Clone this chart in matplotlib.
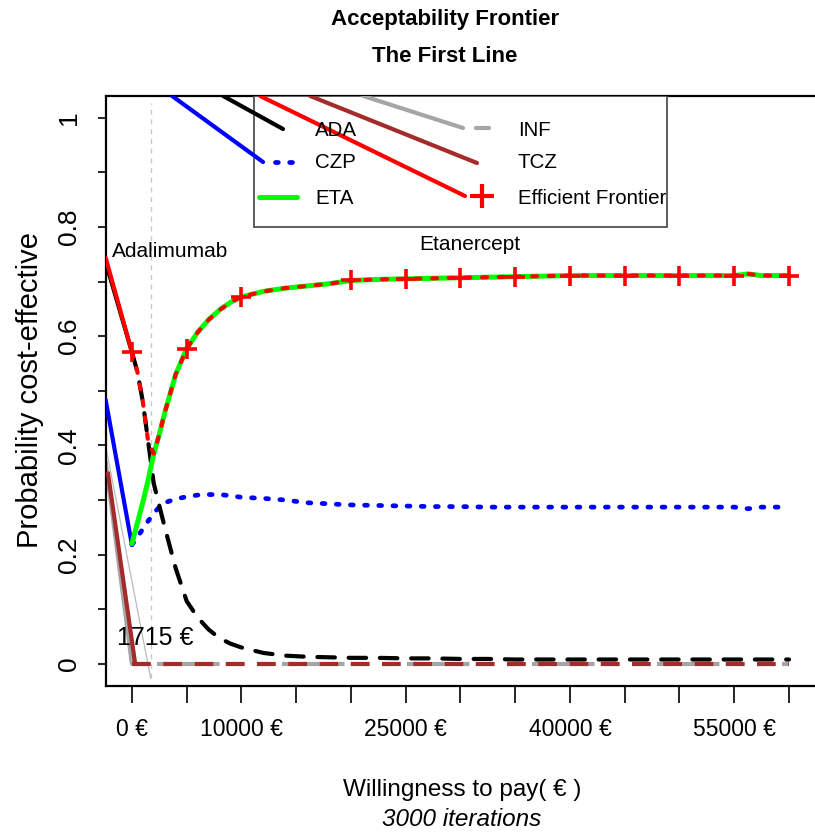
import matplotlib
matplotlib.use('Agg')
import matplotlib.pyplot as plt
from matplotlib.patches import Rectangle

NARROW = ['Liberation Sans', 'DejaVu Sans']
REG = ['Liberation Sans', 'DejaVu Sans']

# ---------------- data ----------------
wtp = [0, 500, 1000, 1500, 2000, 2500, 3000, 4000, 5000, 6000, 7000, 8000, 9000, 10000,
       12000, 14000, 16000, 18000, 20000, 22500, 25000, 27500, 30000, 32500, 35000,
       37500, 40000, 42500, 45000, 47500, 50000, 52500, 55000, 56250, 57500, 60000]

ada = [0.571, 0.535, 0.480, 0.405, 0.330, 0.290, 0.250, 0.175, 0.115, 0.085, 0.063, 0.047,
       0.037, 0.030, 0.020, 0.015, 0.013, 0.012, 0.011, 0.011, 0.010, 0.010, 0.009, 0.009,
       0.008, 0.008, 0.008, 0.008, 0.008, 0.008, 0.008, 0.008, 0.008, 0.008, 0.008, 0.008]

czp = [0.218, 0.232, 0.247, 0.262, 0.276, 0.287, 0.295, 0.302, 0.306, 0.309, 0.310, 0.310,
       0.308, 0.305, 0.303, 0.300, 0.295, 0.293, 0.291, 0.290, 0.289, 0.288, 0.288, 0.287,
       0.287, 0.287, 0.287, 0.287, 0.287, 0.287, 0.287, 0.287, 0.287, 0.284, 0.287, 0.287]

eta = [0.220, 0.258, 0.296, 0.338, 0.385, 0.420, 0.460, 0.530, 0.577, 0.607, 0.630, 0.648,
       0.662, 0.672, 0.682, 0.688, 0.692, 0.696, 0.702, 0.704, 0.705, 0.706, 0.707, 0.708,
       0.709, 0.710, 0.711, 0.711, 0.711, 0.711, 0.711, 0.711, 0.711, 0.714, 0.711, 0.711]

inf = [0.0, 0.0, 0.0, 0.0, 0.0, 0.0, 0.0, 0.0, 0.0, 0.0, 0.0, 0.0,
       0.0, 0.0, 0.0, 0.0, 0.0, 0.0, 0.0, 0.0, 0.0, 0.0, 0.0, 0.0,
       0.0, 0.0, 0.0, 0.0, 0.0, 0.0, 0.0, 0.0, 0.0, 0.0, 0.0, 0.0]

tcz = [0.0, 0.0, 0.0, 0.0, 0.0, 0.0, 0.0, 0.0, 0.0, 0.0, 0.0, 0.0,
       0.0, 0.0, 0.0, 0.0, 0.0, 0.0, 0.0, 0.0, 0.0, 0.0, 0.0, 0.0,
       0.0, 0.0, 0.0, 0.0, 0.0, 0.0, 0.0, 0.0, 0.0, 0.0, 0.0, 0.0]

frontier = [0.571, 0.535, 0.480, 0.405, 0.385, 0.420, 0.460, 0.530, 0.577, 0.607, 0.630, 0.648,
            0.662, 0.672, 0.682, 0.688, 0.692, 0.696, 0.702, 0.704, 0.705, 0.706, 0.707, 0.708,
            0.709, 0.710, 0.711, 0.711, 0.711, 0.711, 0.711, 0.711, 0.711, 0.714, 0.711, 0.711]

# solid lead-in segments (start values at the left edge of the plot)
lead_ada, lead_czp, lead_inf, lead_tcz, lead_front = 0.736, 0.484, 0.370, 0.352, 0.744
threshold = 1715
thr_ymin, thr_ymax, lead_thr = -0.026, 1.027, 0.40

labels = ['ADA', 'CZP', 'ETA', 'INF', 'TCZ', 'Efficient Frontier']
xtick_vals = [0, 5000, 10000, 15000, 20000, 25000, 30000, 35000, 40000, 45000, 50000, 55000, 60000]
xtick_labs = ['0 €', '', '10000 €', '', '', '25000 €', '', '', '40000 €', '', '', '55000 €', '']
ytick_vals = [0, 0.1, 0.2, 0.3, 0.4, 0.5, 0.6, 0.7, 0.8, 0.9, 1.0]
ytick_labs = ['0', '', '0.2', '', '0.4', '', '0.6', '', '0.8', '', '1']

C_ADA, C_CZP, C_ETA, C_INF, C_TCZ, C_FR = 'black', '#0000ff', '#00ff00', '#a5a5a5', '#a52a2a', '#ff0000'
LW = 3.0

# ---------------- figure ----------------
W, H = 815, 834
fig = plt.figure(figsize=(W / 100, H / 100), dpi=100)
XL, XR = -2400, 62400
YB, YT = -0.04, 1.04
ax = fig.add_axes([105.6 / W, 1 - 685.7 / H, 709.7 / W, 589.8 / H])
ax.set_xlim(XL, XR)
ax.set_ylim(YB, YT)

# threshold line with its lead-in
ax.plot([XL, threshold], [lead_thr, thr_ymin], color='#bbbbbb', lw=0.9, zorder=1)
ax.plot([threshold, threshold], [thr_ymin, thr_ymax], color='#c8c8c8', lw=1.0,
        dashes=(3.5, 3.5), zorder=1)

# INF
ax.plot([XL, wtp[0]], [lead_inf, inf[0]], color=C_INF, lw=LW, zorder=2, solid_capstyle='round')
ax.plot(wtp, inf, color=C_INF, lw=LW, dashes=(3, 3), zorder=2, dash_capstyle='butt')
# TCZ
ax.plot([XL + 200, wtp[0] + 300], [lead_tcz, tcz[0]], color=C_TCZ, lw=LW, zorder=3, solid_capstyle='butt')
ax.plot(wtp, tcz, color=C_TCZ, lw=LW, dashes=(4.5, 3.0), zorder=3, dash_capstyle='butt')
# CZP
ax.plot([XL, wtp[0]], [lead_czp, czp[0]], color=C_CZP, lw=LW, zorder=4, solid_capstyle='round')
ax.plot(wtp, czp, color=C_CZP, lw=LW + 0.4, dashes=(0.6, 2.4), dash_capstyle='round', zorder=4)
# ADA
ax.plot([XL, wtp[0]], [lead_ada, ada[0]], color=C_ADA, lw=LW, zorder=5, solid_capstyle='round')
ax.plot(wtp, ada, color=C_ADA, lw=LW, dashes=(4.2, 3.3), dash_capstyle='round', zorder=5)
# ETA
ax.plot(wtp, eta, color=C_ETA, lw=LW + 0.6, zorder=6, solid_capstyle='round')
# Frontier
ax.plot([XL, wtp[0]], [lead_front, frontier[0]], color=C_FR, lw=LW, zorder=7, solid_capstyle='round')
ax.plot(wtp, frontier, color=C_FR, lw=LW, dashes=(1.2, 2.8), dash_capstyle='round', zorder=7)
mk_idx = [i for i, v in enumerate(wtp) if v % 5000 == 0]
ax.plot([wtp[i] for i in mk_idx], [frontier[i] for i in mk_idx], ls='none', marker='+',
        ms=15, mew=2.6, color=C_FR, zorder=8)

# annotations
ax.text(3470, 0.755, 'Adalimumab', family=NARROW, fontsize=15, ha='center', va='center')
ax.text(30870, 0.767, 'Etanercept', family=NARROW, fontsize=15, ha='center', va='center')
ax.text(2100, 0.048, '1715 €', family=NARROW, fontsize=18, ha='center', va='center', zorder=9)

# ---------------- legend (drawn by hand, with its lead-ins) ----------------
def fx(px):
    return (px - 105.6) / 709.7

def fy(py):
    return (685.7 - py) / 589.8

T = ax.transAxes
ax.add_patch(Rectangle((fx(254), fy(227)), fx(667) - fx(254), 1 - fy(227), transform=T,
                       facecolor='white', edgecolor='#505050', lw=1.3, zorder=10))
r1, r2, r3 = fy(130), fy(162), fy(197)
kw = dict(transform=T, zorder=11)
# ADA
ax.plot([fx(223), fx(283)], [1.0, fy(129)], color=C_ADA, lw=LW, solid_capstyle='round', **kw)
# CZP
ax.plot([fx(172), fx(263)], [1.0, fy(162)], color=C_CZP, lw=LW, solid_capstyle='round', **kw)
ax.plot([fx(275), fx(298)], [r2, r2], color=C_CZP, lw=LW + 0.4, dashes=(0.6, 2.4), dash_capstyle='round', **kw)
# ETA
ax.plot([fx(259), fx(297)], [r3, r3], color=C_ETA, lw=LW + 0.6, solid_capstyle='round', **kw)
# INF
ax.plot([fx(363), fx(463)], [1.0, fy(128)], color=C_INF, lw=LW, solid_capstyle='round', **kw)
ax.plot([fx(476), fx(489)], [fy(128), fy(128)], color=C_INF, lw=LW, solid_capstyle='round', **kw)
# TCZ
ax.plot([fx(310), fx(477)], [1.0, fy(163)], color=C_TCZ, lw=LW, solid_capstyle='round', **kw)
# Frontier
ax.plot([fx(260), fx(465)], [1.0, fy(196)], color=C_FR, lw=LW, solid_capstyle='round', **kw)
ax.plot([fx(482)], [fy(196)], marker='+', ms=17, mew=3, color=C_FR, ls='none', **kw)

for lab, x, y in [(labels[0], 315, 131), (labels[1], 315, 163), (labels[2], 315, 198),
                  (labels[3], 518, 131), (labels[4], 518, 163), (labels[5], 518, 198)]:
    ax.text(fx(x), fy(y), lab, transform=T, family=NARROW, fontsize=14.8,
            ha='left', va='center', zorder=12)

# ---------------- axes styling ----------------
for s in ['left', 'top', 'bottom']:
    ax.spines[s].set_linewidth(1.6)
ax.spines['right'].set_visible(False)

ax.set_xticks(xtick_vals)
ax.set_xticklabels(xtick_labs, family=NARROW, fontsize=16.5)
ax.set_yticks(ytick_vals)
ax.set_yticklabels(ytick_labs, family=REG, fontsize=19, rotation=90, va='center')
ax.tick_params(axis='x', direction='out', length=12, width=1.2, pad=11)
ax.tick_params(axis='y', direction='out', length=6, width=1.2, pad=12)

fig.text(30 / W, 1 - 390 / H, 'Probability cost-effective', family=REG, fontsize=21,
         rotation=90, ha='center', va='center')
fig.text(462 / W, 1 - 790 / H, 'Willingness to pay( € )', family=NARROW, fontsize=17.5,
         ha='center', va='center')
fig.text(462 / W, 1 - 820 / H, '3000 iterations', family=NARROW, fontsize=17.5, style='italic',
         ha='center', va='center')
fig.text(445 / W, 1 - 20 / H, 'Acceptability Frontier', family=NARROW, fontsize=16,
         weight='bold', ha='center', va='center')
fig.text(445 / W, 1 - 56 / H, 'The First Line', family=NARROW, fontsize=16,
         weight='bold', ha='center', va='center')

fig.savefig('out.png', dpi=100)
